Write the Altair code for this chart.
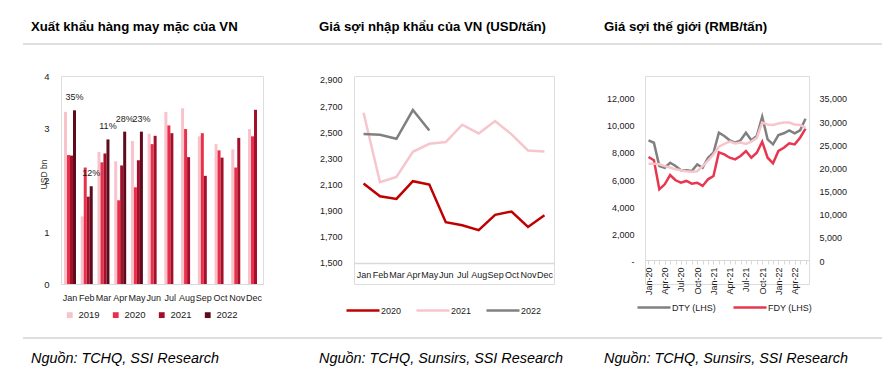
import altair as alt
import pandas as pd

FONT = "Liberation Sans, Arial, sans-serif"

# ---------- Panel 1: Xuất khẩu hàng may mặc ----------
months = ["Jan", "Feb", "Mar", "Apr", "May", "Jun", "Jul", "Aug", "Sep", "Oct", "Nov", "Dec"]
years1 = ["2019", "2020", "2021", "2022"]
exp_2019 = [3.31, 1.30, 2.54, 2.36, 2.75, 2.89, 3.31, 3.38, 2.84, 2.69, 2.59, 2.98]
exp_2020 = [2.48, 2.24, 2.34, 1.61, 1.86, 2.69, 3.05, 2.98, 2.90, 2.57, 2.24, 2.84]
exp_2021 = [2.47, 1.68, 2.51, 2.28, 2.38, 2.85, 2.90, 2.44, 2.08, 2.43, 2.81, 3.35]
exp_2022 = [3.34, 1.88, 2.78, 2.93, 2.93]
growth_2022 = ["35%", "12%", "11%", "28%", "23%"]
colors1 = ["#f8c3cb", "#e8304a", "#a30f2b", "#5e0b1c"]

# ---------- Panel 2: Giá sợi nhập khẩu ----------
years2 = ["2020", "2021", "2022"]
imp_2020 = [2108, 2011, 1990, 2126, 2100, 1812, 1789, 1751, 1868, 1894, 1776, 1865]
imp_2021 = [2650, 2118, 2159, 2351, 2412, 2425, 2558, 2491, 2586, 2484, 2361, 2353]
imp_2022 = [2486, 2481, 2450, 2670, 2514]
colors2 = ["#c00000", "#f7c5cc", "#808080"]

# ---------- Panel 3: Giá sợi thế giới ----------
periods = [f"{m}-{y}" for y in ["20", "21", "22"] for m in months][:30]
dty = [8940, 8760, 7040, 6910, 7280, 7040, 6720, 6720, 6670, 7160, 6910, 7650, 8020, 9500,
       9260, 8940, 8760, 8940, 9500, 8940, 9260, 10690, 9010, 8640, 9330, 9460, 9680, 9460, 9680, 10540]
fdy = [7700, 7460, 5310, 5680, 6370, 5980, 5800, 5930, 5730, 5800, 5560, 6050, 6300, 8050,
       7900, 7650, 7530, 7780, 8150, 7650, 8020, 8840, 7650, 7240, 8150, 8390, 8720, 8640, 9130, 9800]
cotton = [21000, 21000, 20900, 20500, 20200, 19800, 19600, 19400, 19300, 19400, 20500, 21700, 23000, 24700,
          25300, 25800, 25400, 25600, 25300, 25800, 26600, 29900, 29500, 29400, 29700, 29900, 29900, 29500, 29400, 28800]
series3 = ["DTY (LHS)", "FDY (LHS)"]
colors3 = ["#808080", "#e8364f"]
cotton_color = "#f7c5cc"

titles = ["Xuất khẩu hàng may mặc của VN", "Giá sợi nhập khẩu của VN (USD/tấn)", "Giá sợi thế giới (RMB/tấn)"]
sources = ["Nguồn: TCHQ, SSI Research", "Nguồn: TCHQ, Sunsirs, SSI Research", "Nguồn: TCHQ, Sunsirs, SSI Research"]

# ---------- data tables ----------
rows1 = []
for yr, vals in zip(years1, [exp_2019, exp_2020, exp_2021, exp_2022]):
    for m, v in zip(months, vals):
        rows1.append({"month": m, "year": yr, "value": v})
df1 = pd.DataFrame(rows1)
df1_lbl = pd.DataFrame({"month": months[:len(exp_2022)], "year": "2022", "value": exp_2022, "lbl": growth_2022})

rows2 = []
for yr, vals in zip(years2, [imp_2020, imp_2021, imp_2022]):
    for m, v in zip(months, vals):
        rows2.append({"month": m, "year": yr, "price": v})
df2 = pd.DataFrame(rows2)

rows3 = []
for name, vals in zip(series3, [dty, fdy]):
    for p, v in zip(periods, vals):
        rows3.append({"period": p, "series": name, "price": v})
df3 = pd.DataFrame(rows3)
df3c = pd.DataFrame({"period": periods, "cotton": cotton})

LBL = dict(labelFont=FONT, labelColor="#1a1a1a")

# ---------- Panel 1 ----------
W1, H = 202, 208
x1 = alt.X("month:N", sort=months,
           scale=alt.Scale(paddingInner=0.283, paddingOuter=0.18),
           axis=alt.Axis(title=None, labelAngle=0, ticks=False, domainColor="#d9d9d9",
                         labelPadding=9, labelFontSize=9, **LBL))
xo1 = alt.XOffset("year:N", sort=years1, scale=alt.Scale(domain=years1, paddingInner=0, paddingOuter=0))
y1 = alt.Y("value:Q", scale=alt.Scale(domain=[0, 4], nice=False),
           axis=alt.Axis(values=[0, 1, 2, 3, 4], title="USD bn", grid=False, domain=False, ticks=False,
                         labelPadding=12, labelFontSize=9.5, titleX=-13, titleY=98, titleAngle=270,
                         titleFont=FONT, titleFontSize=8.5, titleFontWeight="normal", titleColor="#333",
                         **LBL))
bars = alt.Chart(df1).mark_bar(size=3).encode(
    x=x1, xOffset=xo1, y=y1,
    color=alt.Color("year:N", scale=alt.Scale(domain=years1, range=colors1),
                    legend=alt.Legend(title=None, orient="none", legendX=4, legendY=234,
                                      direction="horizontal", symbolType="square", symbolSize=34,
                                      symbolStrokeWidth=0, labelFontSize=9.5, labelFont=FONT,
                                      labelColor="#1a1a1a", labelOffset=4, columnPadding=11)),
)
bar_lbl = alt.Chart(df1_lbl).mark_text(dy=-13, fontSize=9, font=FONT, color="#1a1a1a").encode(
    x=x1, xOffset=xo1, y=y1, text="lbl:N")


def txt(s, x, y, **kw):
    return alt.Chart(pd.DataFrame({"t": [s]})).mark_text(align="left", baseline="middle", font=FONT, **kw).encode(
        x=alt.value(x), y=alt.value(y), text="t:N")


def hrule(x, x2, y, **kw):
    return alt.Chart(pd.DataFrame({"k": [0]})).mark_rule(**kw).encode(
        x=alt.value(x), x2=alt.value(x2), y=alt.value(y))


anchor = hrule(-52, -51, -67, strokeOpacity=0, strokeWidth=0.5)
deco = [anchor,
        hrule(-38, 821, -32, color="#bfbfbf", strokeWidth=1.2),
        hrule(-38, 821, 262, color="#bfbfbf", strokeWidth=1.2)]
for s, xx in zip(titles, [-30, 258, 543]):
    deco.append(txt(s, xx, -49, fontSize=13.2, fontWeight="bold", color="#000"))
for s, xx in zip(sources, [-30, 258, 543]):
    deco.append(txt(s, xx, 283, fontSize=14.4, fontStyle="italic", color="#000"))

p1 = alt.layer(bars, bar_lbl, *deco).properties(width=W1, height=H)

# ---------- Panel 2 ----------
W2 = 200
y2 = alt.Y("price:Q", scale=alt.Scale(domain=[1339.3, 2930.6], nice=False, zero=False),
           axis=alt.Axis(values=list(range(1500, 3000, 200)), format=",.0f", title=None, grid=False,
                         domain=False, ticks=False, labelPadding=12, labelFontSize=9, **LBL))
x2 = alt.X("month:N", sort=months, scale=alt.Scale(type="point", padding=0.58),
           axis=alt.Axis(title=None, labelAngle=0, ticks=False, offset=-21, domainColor="#d9d9d9",
                         domainWidth=1.5, labelPadding=7, labelFontSize=9, **LBL))
p2 = alt.Chart(df2).mark_line(strokeWidth=2.5).encode(
    x=x2, y=y2,
    color=alt.Color("year:N", scale=alt.Scale(domain=years2, range=colors2),
                    legend=alt.Legend(title=None, orient="none", legendX=-9, legendY=216.5,
                                      direction="horizontal", symbolType="stroke", symbolSize=1089,
                                      symbolStrokeWidth=2.5, labelFontSize=9, labelFont=FONT,
                                      labelColor="#1a1a1a", labelOffset=0, columnPadding=9)),
).properties(width=W2, height=H)

# ---------- Panel 3 ----------
W3 = 164
x3 = alt.X("period:N", sort=periods, scale=alt.Scale(type="point", padding=0.646),
           axis=alt.Axis(title=None, labelAngle=270, offset=-24, tickSize=4, tickColor="#d9d9d9",
                         domainColor="#d9d9d9", domainWidth=1.2, labelPadding=3, labelFontSize=9,
                         labelExpr="indexof(['Jan','Apr','Jul','Oct'], slice(datum.label, 0, 3)) >= 0 ? datum.label : ''",
                         **LBL))
left3 = alt.Chart(df3).mark_line(strokeWidth=2.5).encode(
    x=x3,
    y=alt.Y("price:Q", scale=alt.Scale(domain=[-1703.7, 13703.7], nice=False, zero=False),
            axis=alt.Axis(values=list(range(0, 12001, 2000)), title=None, grid=False, domain=False,
                          ticks=False, labelPadding=11, labelFontSize=9,
                          labelExpr="datum.value == 0 ? '-' : format(datum.value, ',')", **LBL)),
    color=alt.Color("series:N", scale=alt.Scale(domain=series3, range=colors3),
                    legend=alt.Legend(title=None, orient="none", legendX=-9, legendY=213.5,
                                      direction="horizontal", symbolType="stroke", symbolSize=1089,
                                      symbolStrokeWidth=2.5, labelFontSize=9, labelFont=FONT,
                                      labelColor="#1a1a1a", labelOffset=0, columnPadding=11)),
)
right3 = alt.Chart(df3c).mark_line(strokeWidth=2.5, color=cotton_color).encode(
    x=x3,
    y=alt.Y("cotton:Q", scale=alt.Scale(domain=[-4969, 39969], nice=False, zero=False),
            axis=alt.Axis(orient="right", values=list(range(0, 35001, 5000)), format=",.0f", title=None,
                          grid=False, domain=False, ticks=False, labelPadding=10, labelFontSize=9, **LBL)),
)
p3 = alt.layer(left3, right3).resolve_scale(y="independent").properties(width=W3, height=H)

chart = alt.hconcat(p1, p2, p3, spacing=91, bounds="flush").resolve_scale(
    x="independent", y="independent", color="independent"
).properties(padding=0, background="white").configure_view(stroke=None).configure(font=FONT)

chart.save("out.html", embed_options={"renderer": "svg", "actions": False})
